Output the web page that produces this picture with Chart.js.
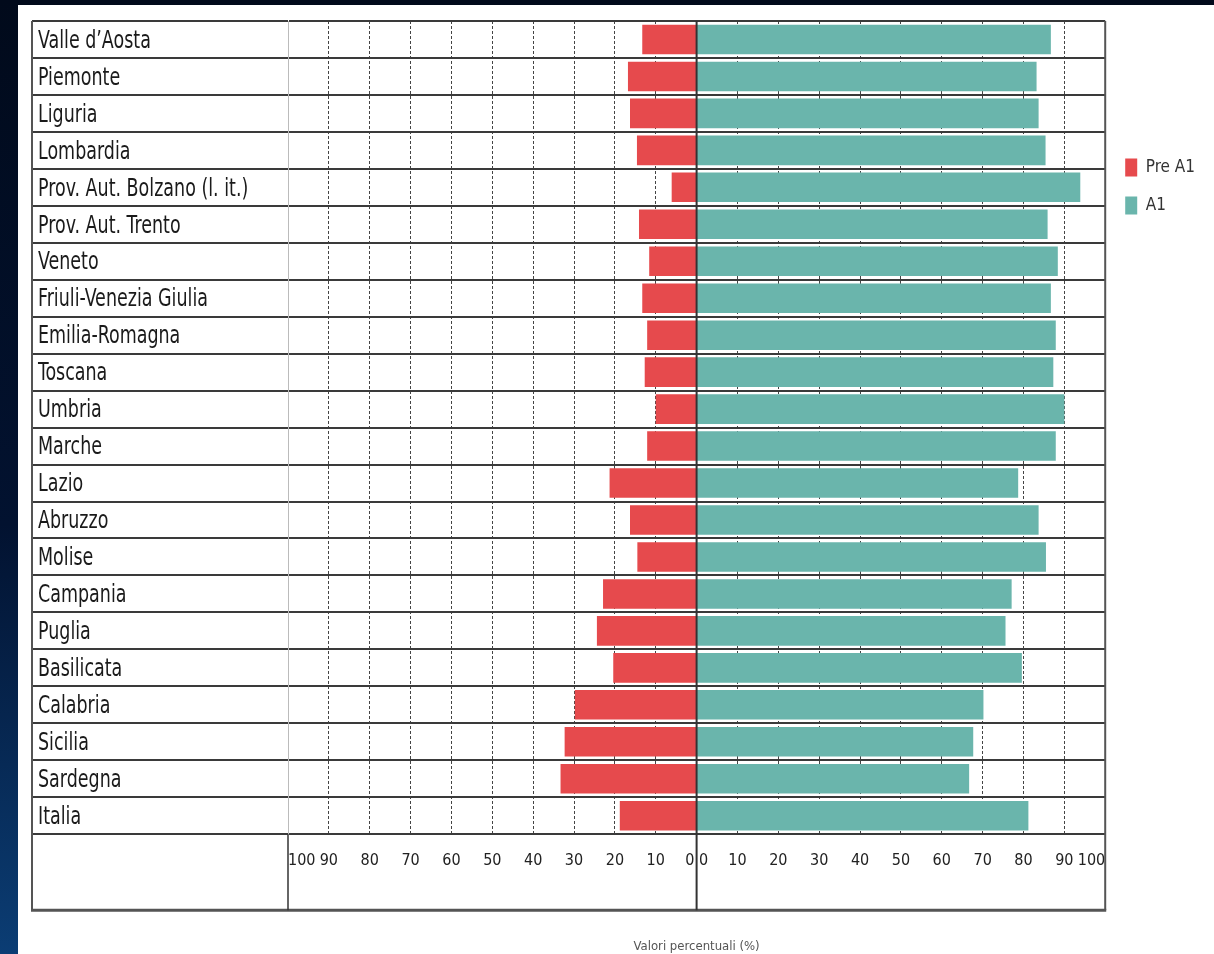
<!DOCTYPE html>
<html>
<head>
<meta charset="utf-8">
<script src="https://cdn.jsdelivr.net/npm/chart.js@4"></script>
<style>
  html, body { margin: 0; padding: 0; }
  body {
    width: 1214px; height: 954px; overflow: hidden; position: relative;
    background: linear-gradient(to bottom, #010a1b 0%, #021230 55%, #0b3d74 100%);
  }
  #panel { position: absolute; left: 18px; top: 5px; width: 1196px; height: 949px; background: #fff; }
  #wrap { position: absolute; left: 0; top: 0; width: 1214px; height: 954px; }
</style>
</head>
<body>
<div id="panel"></div>
<div id="wrap"><canvas id="chart"></canvas></div>
<script>
// regions, top to bottom
const regions = ['Valle d\u2019Aosta', 'Piemonte', 'Liguria', 'Lombardia', 'Prov. Aut. Bolzano (l. it.)',
  'Prov. Aut. Trento', 'Veneto', 'Friuli-Venezia Giulia', 'Emilia-Romagna', 'Toscana', 'Umbria',
  'Marche', 'Lazio', 'Abruzzo', 'Molise', 'Campania', 'Puglia', 'Basilicata', 'Calabria',
  'Sicilia', 'Sardegna', 'Italia'];

// percent of students per level
const preA1 = [13.3, 16.8, 16.3, 14.6, 6.1, 14.1, 11.6, 13.3, 12.1, 12.7, 10.0,
  12.1, 21.3, 16.3, 14.5, 22.9, 24.4, 20.4, 29.8, 32.3, 33.3, 18.8];
const a1 = [86.7, 83.2, 83.7, 85.4, 93.9, 85.9, 88.4, 86.7, 87.9, 87.3, 90.0,
  87.9, 78.7, 83.7, 85.5, 77.1, 75.6, 79.6, 70.2, 67.7, 66.7, 81.2];

const seriesNames = ['Pre A1', 'A1'];
const axisTitle = 'Valori percentuali (%)';

const narrow = "'DejaVu Sans Condensed', 'Liberation Sans Narrow', sans-serif";

// region names: drawn squeezed, the original font is a narrow one
const rowLabels = {
  id: 'rowLabels',
  afterDraw(chart) {
    const { ctx } = chart;
    const y = chart.scales.y;
    ctx.save();
    ctx.fillStyle = '#1a1a1a';
    ctx.font = '24px ' + narrow;
    ctx.textBaseline = 'middle';
    ctx.textAlign = 'left';
    chart.data.labels.forEach((lab, i) => {
      ctx.save();
      ctx.translate(y.left, y.getPixelForValue(i) + 2);
      ctx.scale(0.81, 1);
      ctx.fillText(lab, 0, 0);
      ctx.restore();
    });
    ctx.restore();
  }
};

// frame lines, centre line and the bottom box of the table
const framePlugin = {
  id: 'frame',
  afterDatasetsDraw(chart) {
    const { ctx, chartArea } = chart;
    const x = chart.scales.x, y = chart.scales.y;
    const bottom = chartArea.bottom + 76;
    const left = y.left - 6;
    ctx.save();
    ctx.lineCap = 'butt';
    ctx.strokeStyle = '#555';
    ctx.lineWidth = 2;
    ctx.beginPath();
    ctx.moveTo(left, chartArea.top); ctx.lineTo(left, bottom);
    ctx.moveTo(chartArea.right, chartArea.top); ctx.lineTo(chartArea.right, bottom);
    ctx.stroke();
    ctx.lineWidth = 3;
    ctx.beginPath();
    ctx.moveTo(left - 1, bottom); ctx.lineTo(chartArea.right + 1, bottom);
    ctx.stroke();
    ctx.strokeStyle = '#333';
    ctx.lineWidth = 1.5;
    ctx.beginPath();
    ctx.moveTo(chartArea.left, chartArea.bottom); ctx.lineTo(chartArea.left, bottom);
    ctx.stroke();
    const zx = x.getPixelForValue(0);
    ctx.lineWidth = 2;
    ctx.beginPath();
    ctx.moveTo(zx, chartArea.top); ctx.lineTo(zx, bottom);
    ctx.stroke();
    ctx.restore();
  }
};

new Chart(document.getElementById('chart'), {
  type: 'bar',
  data: {
    labels: regions,
    datasets: [
      { label: seriesNames[0], data: preA1.map(v => -v), backgroundColor: '#e64a4d',
        barPercentage: 0.8, categoryPercentage: 1 },
      { label: seriesNames[1], data: a1, backgroundColor: '#6ab5ac',
        barPercentage: 0.8, categoryPercentage: 1 }
    ]
  },
  options: {
    indexAxis: 'y',
    responsive: true,
    maintainAspectRatio: false,
    animation: false,
    layout: { padding: { left: 38, top: 21, right: 9, bottom: 0 } },
    scales: {
      x: {
        stacked: true,
        min: -100,
        max: 100,
        border: { display: false, dash: [3, 2] },
        grid: {
          drawTicks: false,
          lineWidth: 1,
          color: ctx => (ctx.tick && (ctx.tick.value === 0 || Math.abs(ctx.tick.value) === 100)) ? 'rgba(0,0,0,0)' : '#444'
        },
        ticks: {
          stepSize: 10,
          autoSkip: false,
          maxRotation: 0,
          align: 'inner',
          padding: 17,
          color: '#222',
          font: { family: narrow, size: 16 },
          callback: v => v === 0 ? '0 0' : String(Math.abs(v))
        },
        title: {
          display: true,
          text: axisTitle,
          color: '#555',
          font: { family: narrow, size: 13 },
          padding: { top: 51, bottom: 0 }
        }
      },
      y: {
        stacked: true,
        border: { color: '#bbb', width: 1 },
        grid: { color: '#3a3a3a', lineWidth: 2, tickLength: 256, offset: true },
        ticks: { display: false },
        afterFit: s => { s.width = 250; }
      }
    },
    plugins: {
      legend: {
        position: 'right',
        align: 'start',
        title: { display: true, text: ' ', padding: { top: 103, bottom: 0 } },
        labels: {
          boxWidth: 12,
          boxHeight: 18,
          padding: 20,
          color: '#333',
          font: { family: narrow, size: 17 }
        }
      },
      tooltip: { enabled: true }
    }
  },
  plugins: [framePlugin, rowLabels]
});
</script>
</body>
</html>
